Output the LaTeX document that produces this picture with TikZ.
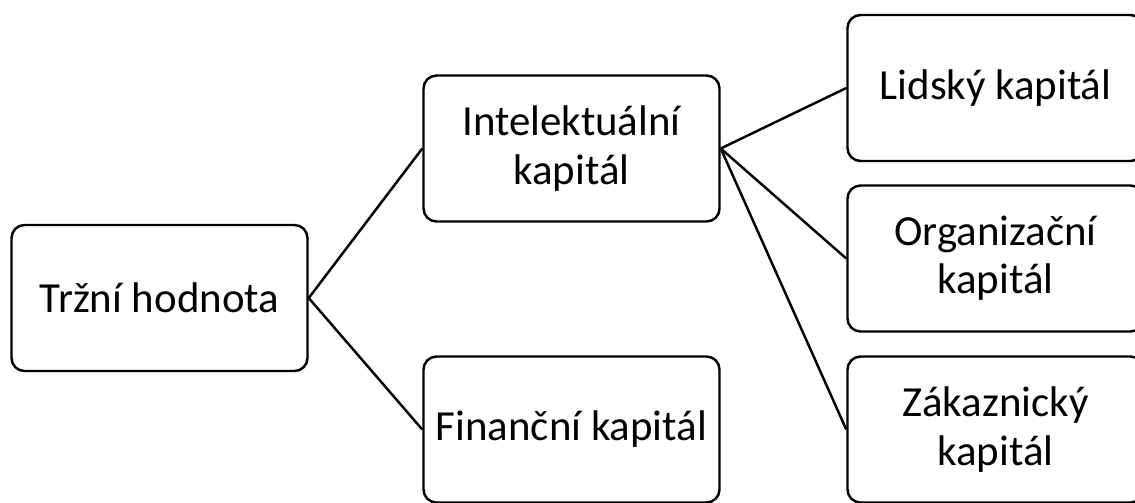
\documentclass[tikz,border=0pt]{standalone}
\usepackage{fontspec}
\setmainfont{Carlito}
\usepackage{xcolor}
\usepackage{tikz}
\usetikzlibrary{positioning}
\definecolor{obrys}{HTML}{000000}
\tikzset{
  blok/.style={rectangle, rounded corners=0.26cm, draw=obrys, fill=white,
    line width=1.4pt, text=obrys, font=\fontsize{24.4}{27.5}\selectfont,
    minimum width=5.92cm, minimum height=2.92cm, align=center, inner sep=1mm},
  spoj/.style={line width=1.4pt, color=obrys}
}
\begin{document}
\begin{tikzpicture}
    \useasboundingbox (0,0) rectangle (22.7,-10.04);

    % Bloky
    \node[blok] (trzni)  at (3.19, -5.96) {Tržní hodnota};
    \node[blok] (intel)  at (11.43, -2.97) {Intelektuální\\ kapitál};
    \node[blok] (financ) at (11.43, -8.59) {Finanční kapitál};
    \node[blok] (lidsky) at (19.91, -1.76) {Lidský kapitál};
    \node[blok] (organ)  at (19.91, -5.17) {Organizační\\ kapitál};
    \node[blok] (zakaz)  at (19.91, -8.59) {Zákaznický\\ kapitál};

    % Spoje
    \draw[spoj] (trzni.east) -- (intel.west);
    \draw[spoj] (trzni.east) -- (financ.west);
    \draw[spoj] (intel.east) -- (lidsky.west);
    \draw[spoj] (intel.east) -- (organ.west);
    \draw[spoj] (intel.east) -- (zakaz.west);
\end{tikzpicture}
\end{document}
